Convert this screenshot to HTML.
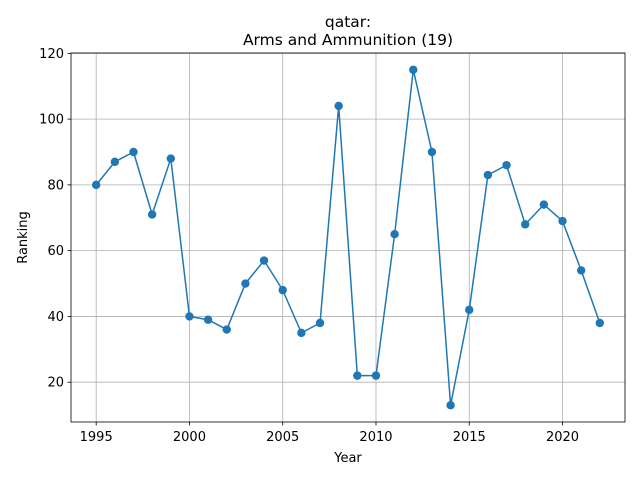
<!DOCTYPE html>
<html><head><meta charset="utf-8"><style>
body{margin:0;background:#fff;}
svg text{font-family:"DejaVu Sans","Liberation Sans",sans-serif;fill:#000;}
</style></head><body>
<svg id="chart" width="640" height="480" xmlns="http://www.w3.org/2000/svg"></svg>
<script>
const years=[1995,1996,1997,1998,1999,2000,2001,2002,2003,2004,2005,2006,2007,2008,2009,2010,2011,2012,2013,2014,2015,2016,2017,2018,2019,2020,2021,2022];
const ranking=[80,87,90,71,88,40,39,36,50,57,48,35,38,104,22,22,65,115,90,13,42,83,86,68,74,69,54,38];
const xTicks=[1995,2000,2005,2010,2015,2020];
const yTicks=[20,40,60,80,100,120];
const L=71,R=625,T=53,B=422;
const svg=document.getElementById('chart');
const NS='http://www.w3.org/2000/svg';
const xmin=Math.min(...years),xmax=Math.max(...years),xp=(xmax-xmin)*0.05;
const ymin=Math.min(...ranking),ymax=Math.max(...ranking),yp=(ymax-ymin)*0.05;
const x=v=>L+(v-(xmin-xp))/((xmax+xp)-(xmin-xp))*(R-L);
const y=v=>B-(v-(ymin-yp))/((ymax+yp)-(ymin-yp))*(B-T);
function mk(t,a,p){const e=document.createElementNS(NS,t);for(const k in a)e.setAttribute(k,a[k]);(p||svg).appendChild(e);return e;}
xTicks.forEach(v=>{
 const g=mk('line',{x1:x(v),x2:x(v),y1:T,y2:B,stroke:'#b0b0b0','stroke-width':0.8});
 
 
 mk('line',{x1:x(v),x2:x(v),y1:B,y2:B+3.5,stroke:'#000','stroke-width':0.8});
 const t=mk('text',{x:x(v),y:B+19,'text-anchor':'middle','font-size':13});t.textContent=v;
 
 
});
yTicks.forEach(v=>{
 const g=mk('line',{x1:L,x2:R,y1:y(v),y2:y(v),stroke:'#b0b0b0','stroke-width':0.8});
 
 
 mk('line',{x1:L-3.5,x2:L,y1:y(v),y2:y(v),stroke:'#000','stroke-width':0.8});
 const t=mk('text',{x:L-7,y:y(v)+4.5,'text-anchor':'end','font-size':13});t.textContent=v;
 
 
});
const line=mk('polyline',{points:years.map((v,i)=>x(v)+','+y(ranking[i])).join(' '),fill:'none',stroke:'#1f77b4','stroke-width':1.5});


years.forEach((v,i)=>{
 const c=mk('circle',{cx:x(v),cy:y(ranking[i]),r:4.2,fill:'#1f77b4'});
 
 
});
const f=mk('rect',{x:L,y:T,width:R-L,height:B-T,fill:'none',stroke:'#000','stroke-width':0.8});


const t1=mk('text',{x:(L+R)/2,y:27,'text-anchor':'middle','font-size':15.5});t1.textContent='qatar:';


const t2=mk('text',{x:(L+R)/2,y:45,'text-anchor':'middle','font-size':15.5});t2.textContent='Arms and Ammunition (19)';


const xl=mk('text',{x:(L+R)/2,y:462,'text-anchor':'middle','font-size':13});xl.textContent='Year';


const yl=mk('text',{x:27,y:(T+B)/2,'text-anchor':'middle','font-size':13,transform:'rotate(-90 27 '+((T+B)/2)+')'});yl.textContent='Ranking';


</script>
</body></html>
